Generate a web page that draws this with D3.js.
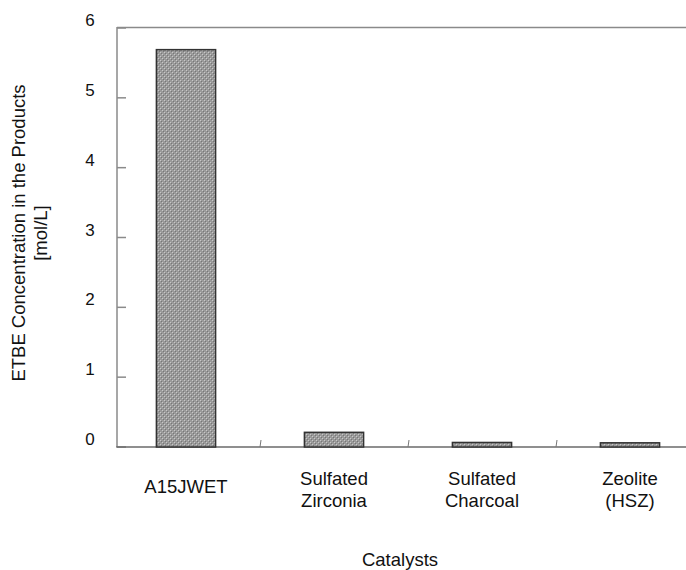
<!DOCTYPE html>
<html>
<head>
<meta charset="utf-8">
<script src="https://cdn.jsdelivr.net/npm/d3@7/dist/d3.min.js"></script>
<style>
  html, body { margin: 0; padding: 0; background: #fff; }
  svg { display: block; font-family: "Liberation Sans", Arial, sans-serif; }
</style>
</head>
<body>
<svg id="chart" width="686" height="570"></svg>
<script>
// ---- data ----
const categories = ["A15JWET", "Sulfated\nZirconia", "Sulfated\nCharcoal", "Zeolite\n(HSZ)"];
const values = [5.69, 0.21, 0.065, 0.06];
const yTicks = [0, 1, 2, 3, 4, 5, 6];
const yTitle = ["ETBE Concentration in the Products", "[mol/L]"];
const xTitle = "Catalysts";

const svg = d3.select("#chart");

// pattern fill
const defs = svg.append("defs");
const pat = defs.append("pattern").attr("id", "dots")
  .attr("patternUnits", "userSpaceOnUse").attr("width", 4).attr("height", 4);
pat.append("rect").attr("width", 4).attr("height", 4).attr("fill", "#9a9a9a");
pat.append("rect").attr("x", 0).attr("y", 0).attr("width", 1).attr("height", 1).attr("fill", "#c8c8c8");
pat.append("rect").attr("x", 2).attr("y", 2).attr("width", 1).attr("height", 1).attr("fill", "#c8c8c8");
pat.append("rect").attr("x", 1).attr("y", 1).attr("width", 1).attr("height", 1).attr("fill", "#777");
pat.append("rect").attr("x", 3).attr("y", 3).attr("width", 1).attr("height", 1).attr("fill", "#777");

const x = d3.scaleBand().domain(categories).range([112, 704]).paddingInner(0.6).paddingOuter(0.3);
const y = d3.scaleLinear().domain([0, 6]).range([447, 28]);
const axisLeft = 117;
const axisColor = "#8a8a8a";

// top border line
svg.append("line").attr("x1", axisLeft).attr("x2", 686)
  .attr("y1", y(6) - 0.5).attr("y2", y(6) - 0.5)
  .attr("stroke", axisColor).attr("stroke-width", 1.5);

// y axis
svg.append("line").attr("x1", axisLeft).attr("x2", axisLeft)
  .attr("y1", y(6) - 1).attr("y2", y(0))
  .attr("stroke", axisColor).attr("stroke-width", 1.5);
svg.selectAll(".ytick").data(yTicks).enter().append("line")
  .attr("x1", axisLeft).attr("x2", axisLeft + 9)
  .attr("y1", d => y(d)).attr("y2", d => y(d))
  .attr("stroke", axisColor).attr("stroke-width", 1.5);
svg.selectAll(".ylab").data(yTicks).enter().append("text")
  .attr("x", 90).attr("y", d => y(d) - 2)
  .attr("text-anchor", "middle").attr("font-size", 17).attr("fill", "#111")
  .text(d => d);

// x axis
svg.append("line").attr("x1", axisLeft - 0.75).attr("x2", 686)
  .attr("y1", y(0)).attr("y2", y(0))
  .attr("stroke", "#6a6a6a").attr("stroke-width", 1.5);
const boundaries = categories.slice(1).map(c => x(c) - x.step() * x.paddingInner() / 2);
svg.selectAll(".xtick").data(boundaries).enter().append("line")
  .attr("x1", d => d).attr("x2", d => d + 1)
  .attr("y1", y(0)).attr("y2", y(0) - 7)
  .attr("stroke", "#777").attr("stroke-width", 1);

// bars
svg.selectAll(".bar").data(categories).enter().append("rect")
  .attr("x", c => x(c))
  .attr("y", (c, i) => y(values[i]))
  .attr("width", x.bandwidth())
  .attr("height", (c, i) => y(0) - y(values[i]))
  .attr("fill", "url(#dots)")
  .attr("stroke", "#333").attr("stroke-width", 1.5);

// x labels
categories.forEach(c => {
  const lines = c.split("\n");
  const t = svg.append("text").attr("text-anchor", "middle")
    .attr("font-size", 18.5).attr("fill", "#111");
  if (lines.length === 1) {
    t.append("tspan").attr("x", x(c) + x.bandwidth() / 2).attr("y", 493).text(lines[0]);
  } else {
    lines.forEach((l, j) => {
      t.append("tspan").attr("x", x(c) + x.bandwidth() / 2).attr("y", 485 + j * 22).text(l);
    });
  }
});

// axis titles
svg.append("text").attr("x", 400).attr("y", 566).attr("text-anchor", "middle")
  .attr("font-size", 18.5).attr("fill", "#111").text(xTitle);

const yt = svg.append("text").attr("transform", "translate(0,233) rotate(-90)")
  .attr("text-anchor", "middle").attr("font-size", 18.5).attr("fill", "#111");
yTitle.forEach((l, j) => {
  yt.append("tspan").attr("x", 0).attr("y", 25 + j * 22).text(l);
});
</script>
</body>
</html>
